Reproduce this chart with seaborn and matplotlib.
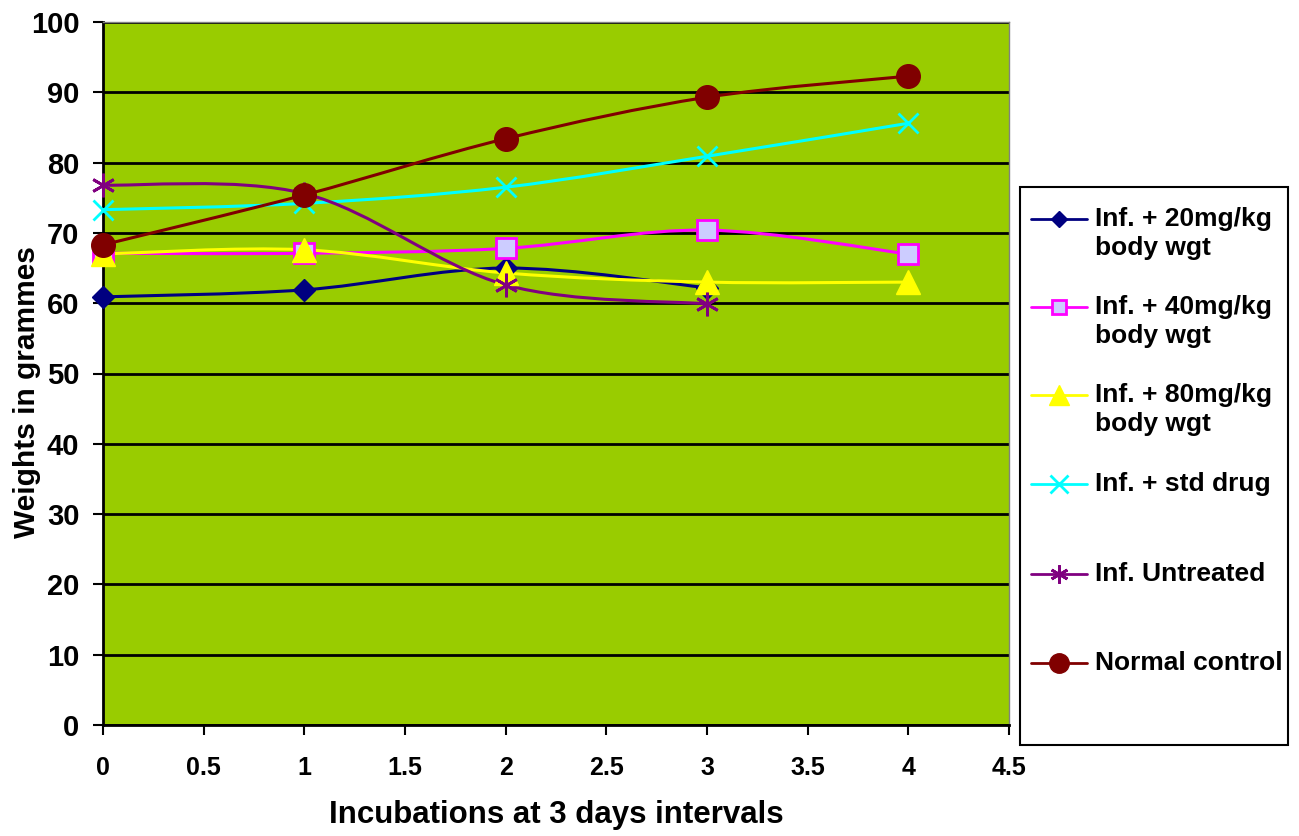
import matplotlib
matplotlib.use("Agg")
import matplotlib.pyplot as plt
from matplotlib.path import Path
from matplotlib.patches import PathPatch, Rectangle
from matplotlib.lines import Line2D
import seaborn as sns
import pandas as pd
import numpy as np

x_vals = [0, 1, 2, 3, 4]
inf_20 = [60.9, 61.9, 65.0, 62.2, None]
inf_40 = [67.1, 67.1, 67.8, 70.4, 67.0]
inf_80 = [67.0, 67.6, 64.3, 63.0, 63.0]
inf_std = [73.3, 74.2, 76.5, 80.9, 85.6]
inf_untreated = [76.8, 75.6, 62.6, 59.9, None]
normal_control = [68.3, 75.4, 83.4, 89.3, 92.3]

series_names = ["Inf. + 20mg/kg\nbody wgt", "Inf. + 40mg/kg\nbody wgt", "Inf. + 80mg/kg\nbody wgt",
                "Inf. + std drug", "Inf. Untreated", "Normal control"]
series_vals = [inf_20, inf_40, inf_80, inf_std, inf_untreated, normal_control]

styles = [
    dict(color="#000080", marker="D", ms=11, mfc="#000080", mec="#000080", mew=1, lms=8),
    dict(color="#FF00FF", marker="s", ms=15, mfc="#CCCCFF", mec="#FF00FF", mew=2, lms=10),
    dict(color="#FFFF00", marker="^", ms=17, mfc="#FFFF00", mec="#FFFF00", mew=1, lms=15),
    dict(color="#00FFFF", marker="x", ms=15, mfc="#00FFFF", mec="#00FFFF", mew=2, lms=13),
    dict(color="#800080", marker=(6, 2, 0), ms=17, mfc="#800080", mec="#800080", mew=2, lms=13),
    dict(color="#800000", marker="o", ms=17, mfc="#800000", mec="#800000", mew=1, lms=14),
]

sns.set_theme(style="white")
plt.rcParams['font.family'] = ['Liberation Sans', 'DejaVu Sans']
plt.rcParams['font.weight'] = 'bold'
plt.rcParams['text.color'] = 'black'
plt.rcParams['axes.labelcolor'] = 'black'
plt.rcParams['xtick.color'] = 'black'
plt.rcParams['ytick.color'] = 'black'

W, H = 1299, 836
fig = plt.figure(figsize=(W / 100, H / 100), dpi=100)
ax_l, ax_r, ax_t, ax_b = 103, 1009, 22, 725
ax = fig.add_axes([ax_l / W, 1 - ax_b / H, (ax_r - ax_l) / W, (ax_b - ax_t) / H])
ax.set_facecolor("#99CC00")


def smooth_path(xs, ys):
    pts = np.column_stack([xs, ys]).astype(float)
    n = len(pts)
    verts = [pts[0]]
    codes = [Path.MOVETO]
    for i in range(n - 1):
        p0 = pts[i - 1] if i > 0 else pts[i]
        p1 = pts[i]
        p2 = pts[i + 1]
        p3 = pts[i + 2] if i + 2 < n else pts[i + 1]
        c1 = p1 + (p2 - p0) / 6.0
        c2 = p2 - (p3 - p1) / 6.0
        verts += [c1, c2, p2]
        codes += [Path.CURVE4] * 3
    return Path(verts, codes)


for name, vals, st in zip(series_names, series_vals, styles):
    df = pd.DataFrame({"x": x_vals, "y": vals}).dropna()
    patch = PathPatch(smooth_path(df["x"].values, df["y"].values), facecolor="none",
                      edgecolor=st["color"], linewidth=2.2, transform=ax.transData,
                      zorder=3, clip_on=False)
    ax.add_patch(patch)
    sns.lineplot(data=df, x="x", y="y", ax=ax, color=st["color"], linestyle="",
                 marker=st["marker"], markersize=st["ms"], markerfacecolor=st["mfc"],
                 markeredgecolor=st["mec"], markeredgewidth=st["mew"], zorder=4,
                 clip_on=False, legend=False)

ax.set_xlim(0, 4.5)
ax.set_ylim(0, 100)
ax.set_xticks(np.arange(0, 4.51, 0.5))
ax.set_xticklabels(["0", "0.5", "1", "1.5", "2", "2.5", "3", "3.5", "4", "4.5"])
ax.set_yticks(range(0, 101, 10))
ax.yaxis.grid(True, color="black", linewidth=2)
ax.xaxis.grid(False)
ax.set_axisbelow(True)
for s in ["top", "right"]:
    ax.spines[s].set_color("#808080")
    ax.spines[s].set_linewidth(1)
for s in ["left", "bottom"]:
    ax.spines[s].set_color("black")
    ax.spines[s].set_linewidth(2)
ax.tick_params(axis="both", which="both", length=7, width=1.5, color="black", direction="out",
               bottom=True, left=True)
ax.tick_params(axis="x", labelsize=18, pad=15)
ax.tick_params(axis="y", labelsize=21, pad=10)
for lab in ax.get_xticklabels() + ax.get_yticklabels():
    lab.set_fontweight("bold")
ax.set_xlabel("Incubations at 3 days intervals", fontsize=22.5, fontweight="bold")
ax.set_ylabel("Weights in grammes", fontsize=21.5, fontweight="bold")
ax.xaxis.set_label_coords((556 - ax_l) / (ax_r - ax_l), -(815 - ax_b) / (ax_b - ax_t))
ax.yaxis.set_label_coords(-(103 - 27) / (ax_r - ax_l), (ax_b - 392) / (ax_b - ax_t))
ax.xaxis.label.set_verticalalignment("center")
ax.yaxis.label.set_verticalalignment("center")

# Legend (manual, Excel-style: handle aligned with first text line)
fig.add_artist(Rectangle((1020 / W, 1 - 745 / H), (1288 - 1020) / W, (745 - 187) / H,
                         transform=fig.transFigure, facecolor="white", edgecolor="black",
                         linewidth=1.5, zorder=5))
handle_y = [219, 307, 395, 484, 574, 663]
for name, st, hy in zip(series_names, styles, handle_y):
    yf = 1 - hy / H
    fig.add_artist(Line2D([1031 / W, 1087 / W], [yf, yf], transform=fig.transFigure,
                          color=st["color"], linewidth=2, zorder=6))
    fig.add_artist(Line2D([1059 / W], [yf], transform=fig.transFigure, linestyle="",
                          marker=st["marker"], markersize=st["lms"], markerfacecolor=st["mfc"],
                          markeredgecolor=st["mec"], markeredgewidth=st["mew"], zorder=7))
    fig.text(1095 / W, 1 - (hy - 12) / H, name, fontsize=19, fontweight="bold", color="black",
             ha="left", va="top", linespacing=1.25, zorder=7)

fig.savefig("out.png", dpi=100, facecolor="white")
